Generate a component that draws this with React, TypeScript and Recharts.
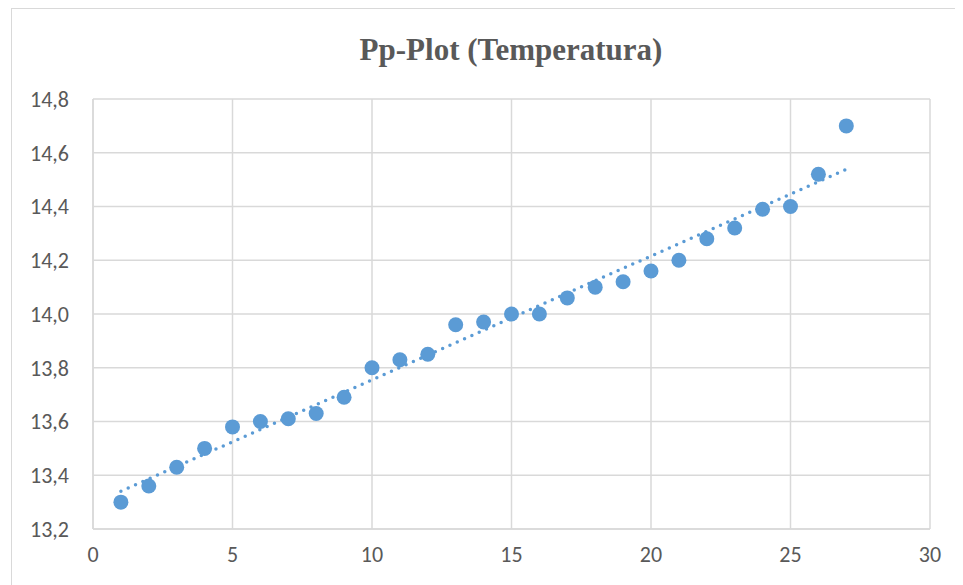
import * as React from 'react'
import { ScatterChart, Scatter, XAxis, YAxis, CartesianGrid } from 'recharts'

// rank (x) and temperature (y)
const ranks = [1, 2, 3, 4, 5, 6, 7, 8, 9, 10, 11, 12, 13, 14, 15, 16, 17, 18, 19, 20, 21, 22, 23, 24, 25, 26, 27]
const temps = [
  13.30, 13.36, 13.43, 13.50, 13.58, 13.60, 13.61, 13.63, 13.69, 13.80, 13.83, 13.85, 13.96, 13.97,
  14.00, 14.00, 14.06, 14.10, 14.12, 14.16, 14.20, 14.28, 14.32, 14.39, 14.40, 14.52, 14.70,
]
const xTicks = [0, 5, 10, 15, 20, 25, 30]
const yTicks = [13.2, 13.4, 13.6, 13.8, 14.0, 14.2, 14.4, 14.6, 14.8]

const BLUE = '#5b9bd5'
const GRID = '#d9d9d9'
const TEXT = '#595959'
const tickFont = { fill: TEXT, fontSize: 22, fontFamily: 'Carlito, Calibri, Lato, sans-serif' }

// least squares fit, drawn as the dotted trend line
function linearTrend(xs: number[], ys: number[]) {
  const n = xs.length
  const mx = xs.reduce((a, b) => a + b, 0) / n
  const my = ys.reduce((a, b) => a + b, 0) / n
  let num = 0
  let den = 0
  xs.forEach((x, i) => {
    num += (x - mx) * (ys[i] - my)
    den += (x - mx) * (x - mx)
  })
  const slope = num / den
  const icpt = my - slope * mx
  const first = xs[0]
  const last = xs[n - 1]
  return [
    { x: first, y: icpt + slope * first },
    { x: last, y: icpt + slope * last },
  ]
}

export default function App() {
  const points = ranks.map((r, i) => ({ x: r, y: temps[i] }))
  const trend = linearTrend(ranks, temps)

  return (
    <div style={{ position: 'relative', width: 955, height: 577, overflow: 'hidden', background: '#fff' }}>
      <div
        style={{
          position: 'absolute', left: 3, top: 0, width: 1000, height: 700,
          border: `1px solid ${GRID}`, boxSizing: 'border-box',
        }}
      />
      <div
        style={{
          position: 'absolute', left: 3, top: 24, width: 1000, textAlign: 'center',
          fontFamily: '"Liberation Serif", "Times New Roman", serif', fontWeight: 'bold',
          fontSize: 31, color: TEXT,
        }}
      >
        Pp-Plot (Temperatura)
      </div>
      <div style={{ position: 'absolute', left: 0, top: 0 }}>
        <ScatterChart width={955} height={577} margin={{ top: 91, right: 33, bottom: 0, left: 0 }}>
          <CartesianGrid stroke={GRID} strokeWidth={1.5} />
          <XAxis
            type="number" dataKey="x" domain={[0, 30]} ticks={xTicks} interval={0}
            height={56} tickLine={false} tickSize={0} tickMargin={17}
            axisLine={{ stroke: GRID, strokeWidth: 1.5 }} tick={tickFont}
          />
          <YAxis
            type="number" dataKey="y" domain={[13.2, 14.8]} ticks={yTicks} interval={0}
            width={85} tickLine={false} tickSize={0} tickMargin={24}
            axisLine={{ stroke: GRID, strokeWidth: 1.5 }} tick={tickFont}
            tickFormatter={(v: number) => v.toFixed(1).replace('.', ',')}
          />
          <Scatter
            data={trend} isAnimationActive={false} shape={() => <g />}
            line={{ stroke: BLUE, strokeWidth: 3.5, strokeDasharray: '0 8', strokeLinecap: 'round' }}
          />
          <Scatter
            data={points} isAnimationActive={false}
            shape={(p: any) => <circle cx={p.cx} cy={p.cy} r={7.5} fill={BLUE} />}
          />
        </ScatterChart>
      </div>
    </div>
  )
}
